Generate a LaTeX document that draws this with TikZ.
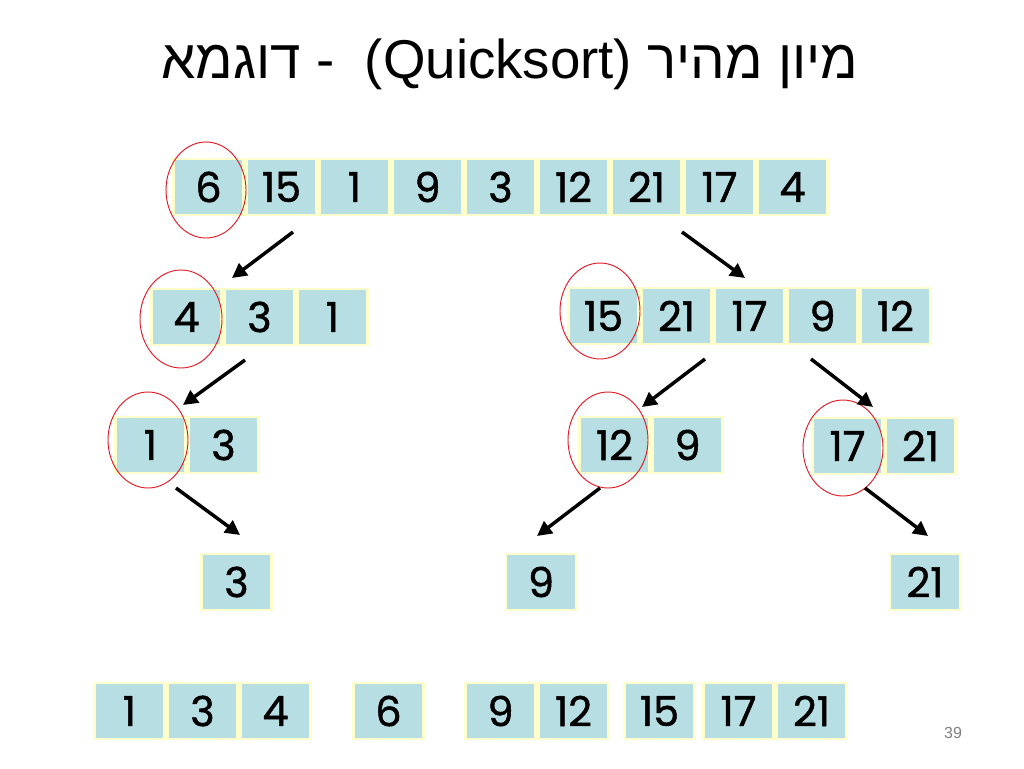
\documentclass[tikz,border=0pt]{standalone}
\usepackage{fontspec}
\usetikzlibrary{arrows.meta}
\setmainfont{Liberation Sans}
\newfontfamily\hebfont[Script=Hebrew]{Liberation Sans}
\newfontfamily\numfont[FakeBold=1.2]{Poppins}
\TeXXeTstate=1
\definecolor{cellfill}{RGB}{183,222,227}
\definecolor{cellrim}{RGB}{255,255,204}
\definecolor{pivotred}{RGB}{225,25,35}

\begin{document}
\begin{tikzpicture}[x=0.75pt,y=-0.75pt,
  cell/.style={draw=cellrim,line width=1.6pt,fill=cellfill,inner sep=0pt,outer sep=0pt,
    minimum width=52.5pt,minimum height=41.5pt,font=\numfont\fontsize{31}{31}\selectfont},
  pivot/.style={draw=pivotred,line width=0.7pt},
  split/.style={-{Triangle[length=11pt,width=11pt]},line width=2.6pt}]
      \useasboundingbox (0,0) rectangle (1024,768);
      \node[font=\hebfont\fontsize{41}{41}\selectfont] (title) at (510,64)
        {\beginR מיון מהיר \beginL(Quicksort)\endL{}\ \ - דוגמא\endR};
      % rows of cells
      \foreach \v [count=\i] in {6,15,1,9,3,12,21,17,4}
        \node[cell] (a\i) at ({208.5+73*(\i-1)},187) {\v};
      \foreach \v [count=\i] in {4,3,1}
        \node[cell] (b\i) at ({186.5+73*(\i-1)},317) {\v};
      \foreach \v [count=\i] in {15,21,17,9,12}
        \node[cell] (c\i) at ({603.5+73*(\i-1)},316) {\v};
      \foreach \v [count=\i] in {1,3}
        \node[cell] (d\i) at ({150.5+73*(\i-1)},445) {\v};
      \foreach \v [count=\i] in {12,9}
        \node[cell] (e\i) at ({614.5+73*(\i-1)},445) {\v};
      \foreach \v [count=\i] in {17,21}
        \node[cell] (f\i) at ({847.5+73*(\i-1)},446) {\v};
      \node[cell] (g1) at (236.5,582) {3};
      \node[cell] (h1) at (541,582) {9};
      \node[cell] (i1) at (925,582) {21};
      \foreach \v [count=\i] in {1,3,4}
        \node[cell] (j\i) at ({129.5+73*(\i-1)},711) {\v};
      \node[cell] (k1) at (388.5,711) {6};
      \foreach \v [count=\i] in {9,12}
        \node[cell] (l\i) at ({500.5+73*(\i-1)},711) {\v};
      \node[cell] (m1) at (659.5,711) {15};
      \foreach \v [count=\i] in {17,21}
        \node[cell] (n\i) at ({738.5+73*(\i-1)},711) {\v};
      \node[text=gray,font=\fontsize{12}{12}\selectfont] (page) at (953,733) {39};
      % pivots
      \draw[pivot] (206,190) ellipse (40 and 48);
      \draw[pivot] (181,319) ellipse (41 and 49);
      \draw[pivot] (600,311) ellipse (40 and 48);
      \draw[pivot] (148,440) ellipse (40 and 48);
      \draw[pivot] (608,440) ellipse (40 and 48);
      \draw[pivot] (843,448) ellipse (40 and 48);
      % arrows
      \coordinate (s1) at (293,232); \coordinate (t1) at (232,278);
      \coordinate (s2) at (682,232); \coordinate (t2) at (745,278);
      \coordinate (s3) at (245,360); \coordinate (t3) at (183,405);
      \coordinate (s4) at (705,359); \coordinate (t4) at (642,407);
      \coordinate (s5) at (811,359); \coordinate (t5) at (873,407);
      \coordinate (s6) at (176,488); \coordinate (t6) at (240,535);
      \coordinate (s7) at (600,488); \coordinate (t7) at (537,536);
      \coordinate (s8) at (865,488); \coordinate (t8) at (928,536);
      \foreach \k in {1,...,8}
        \draw[split] (s\k) -- (t\k);
\end{tikzpicture}
\end{document}
